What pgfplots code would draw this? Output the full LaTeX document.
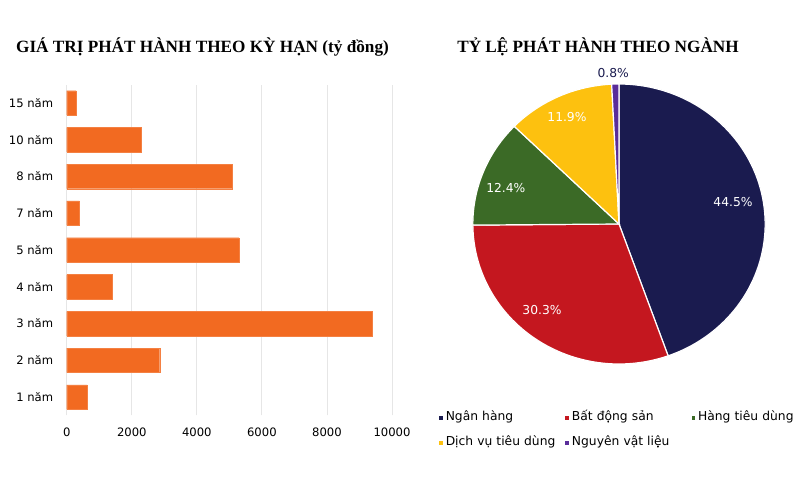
\documentclass[border=0pt]{standalone}
\usepackage{pgfplots}
\pgfplotsset{compat=1.18}
\usepackage{fontspec}
\setmainfont{Liberation Serif}
\newfontfamily\dejavu{DejaVu Sans}
\definecolor{barorange}{HTML}{F26A21}
\definecolor{gridgray}{HTML}{E6E6E6}
\definecolor{cnavy}{HTML}{1A1B4F}
\definecolor{cred}{HTML}{C4171F}
\definecolor{cgreen}{HTML}{3B6A26}
\definecolor{cyellow}{HTML}{FDC10F}
\definecolor{cpurple}{HTML}{5A2D9A}
\begin{document}
\begin{tikzpicture}[x=1pt,y=1pt]
\useasboundingbox (0,0) rectangle (800,482);
\fill[white] (0,0) rectangle (800,482);
% titles
\node[font=\fontsize{17.2}{20}\selectfont\bfseries] at (202.5,435) {GIÁ TRỊ PHÁT HÀNH THEO KỲ HẠN (tỷ đồng)};
\node[font=\fontsize{17.2}{20}\selectfont\bfseries] at (598,435) {TỶ LỆ PHÁT HÀNH THEO NGÀNH};
% bar chart
\begin{axis}[
  at={(66.7pt,66.6pt)}, anchor=south west,
  scale only axis, width=325.3pt, height=330.8pt,
  xmin=0, xmax=10000, ymin=-0.5, ymax=8.5,
  xbar, bar width=24.5pt,
  xtick={0,2000,4000,6000,8000,10000},
  ytick={0,...,8},
  yticklabels={1 năm,2 năm,3 năm,4 năm,5 năm,7 năm,8 năm,10 năm,15 năm},
  xmajorgrids, grid style={gridgray, line width=0.8pt},
  axis line style={draw=none}, major tick length=0pt,
  scaled x ticks=false,
  /pgf/number format/assume math mode=true,
  /pgf/number format/1000 sep={},
  ticklabel style={font=\dejavu\fontsize{11.6}{13}\selectfont, text=black},
  xticklabel style={yshift=-9pt},
  yticklabel style={xshift=-10pt},
]
\addplot[fill=barorange, draw=barorange!85!white] coordinates {
 (630,0) (2860,1) (9400,2) (1390,3) (5290,4) (390,5) (5100,6) (2300,7) (290,8)};
\end{axis}
% pie chart
\def\va{44.5}\def\vb{30.3}\def\vc{12.4}\def\vd{11.9}\def\ve{0.8}
\pgfmathsetmacro\tot{\va+\vb+\vc+\vd+\ve}
\pgfmathsetmacro\aA{90}
\pgfmathsetmacro\aB{\aA-\va/\tot*360}
\pgfmathsetmacro\aC{\aB-\vb/\tot*360}
\pgfmathsetmacro\aD{\aC-\vc/\tot*360}
\pgfmathsetmacro\aE{\aD-\vd/\tot*360}
\pgfmathsetmacro\aF{\aE-\ve/\tot*360}
\begin{axis}[
  at={(619pt,258pt)}, anchor=center,
  scale only axis, width=292.3pt, height=280pt,
  xmin=-1, xmax=1, ymin=-1, ymax=1, enlargelimits=false,
  hide axis, clip=false,
  legend columns=3,
  legend style={draw=none, fill=none, at={(-0.13,-0.157)}, anchor=north west,
    font=\dejavu\fontsize{12.3}{14}\selectfont, text=black,
    /tikz/every even column/.append style={column sep=0pt},
    nodes={inner sep=1.5pt, text width=117pt, align=left, text height=9pt, text depth=3pt},
    row sep=10pt},
  legend cell align=left,
  legend image code/.code={\fill[#1] (0pt,-2.5pt) rectangle (5pt,2.5pt);},
]
\addplot[fill=cnavy, draw=white, line width=1.2pt, domain=\aA:\aB, samples=80] ({cos(x)},{sin(x)}) -- (axis cs:0,0) -- cycle;
\addlegendentry{Ngân hàng}
\addplot[fill=cred, draw=white, line width=1.2pt, domain=\aB:\aC, samples=60] ({cos(x)},{sin(x)}) -- (axis cs:0,0) -- cycle;
\addlegendentry{Bất động sản}
\addplot[fill=cgreen, draw=white, line width=1.2pt, domain=\aC:\aD, samples=40] ({cos(x)},{sin(x)}) -- (axis cs:0,0) -- cycle;
\addlegendentry{Hàng tiêu dùng}
\addplot[fill=cyellow, draw=white, line width=1.2pt, domain=\aD:\aE, samples=40] ({cos(x)},{sin(x)}) -- (axis cs:0,0) -- cycle;
\addlegendentry{Dịch vụ tiêu dùng}
\addplot[fill=cpurple, draw=white, line width=1.2pt, domain=\aE:\aF, samples=10] ({cos(x)},{sin(x)}) -- (axis cs:0,0) -- cycle;
\addlegendentry{Nguyên vật liệu}
\begin{scope}[font=\dejavu\fontsize{12.3}{14}\selectfont]
\node[text=white] at (axis cs:0.78,0.157) {44.5\%};
\node[text=white] at (axis cs:-0.527,-0.614) {30.3\%};
\node[text=white] at (axis cs:-0.774,0.257) {12.4\%};
\node[text=white] at (axis cs:-0.356,0.764) {11.9\%};
\node[text=cnavy] at (axis cs:-0.04,1.08) {0.8\%};
\end{scope}
\end{axis}
\end{tikzpicture}
\end{document}
